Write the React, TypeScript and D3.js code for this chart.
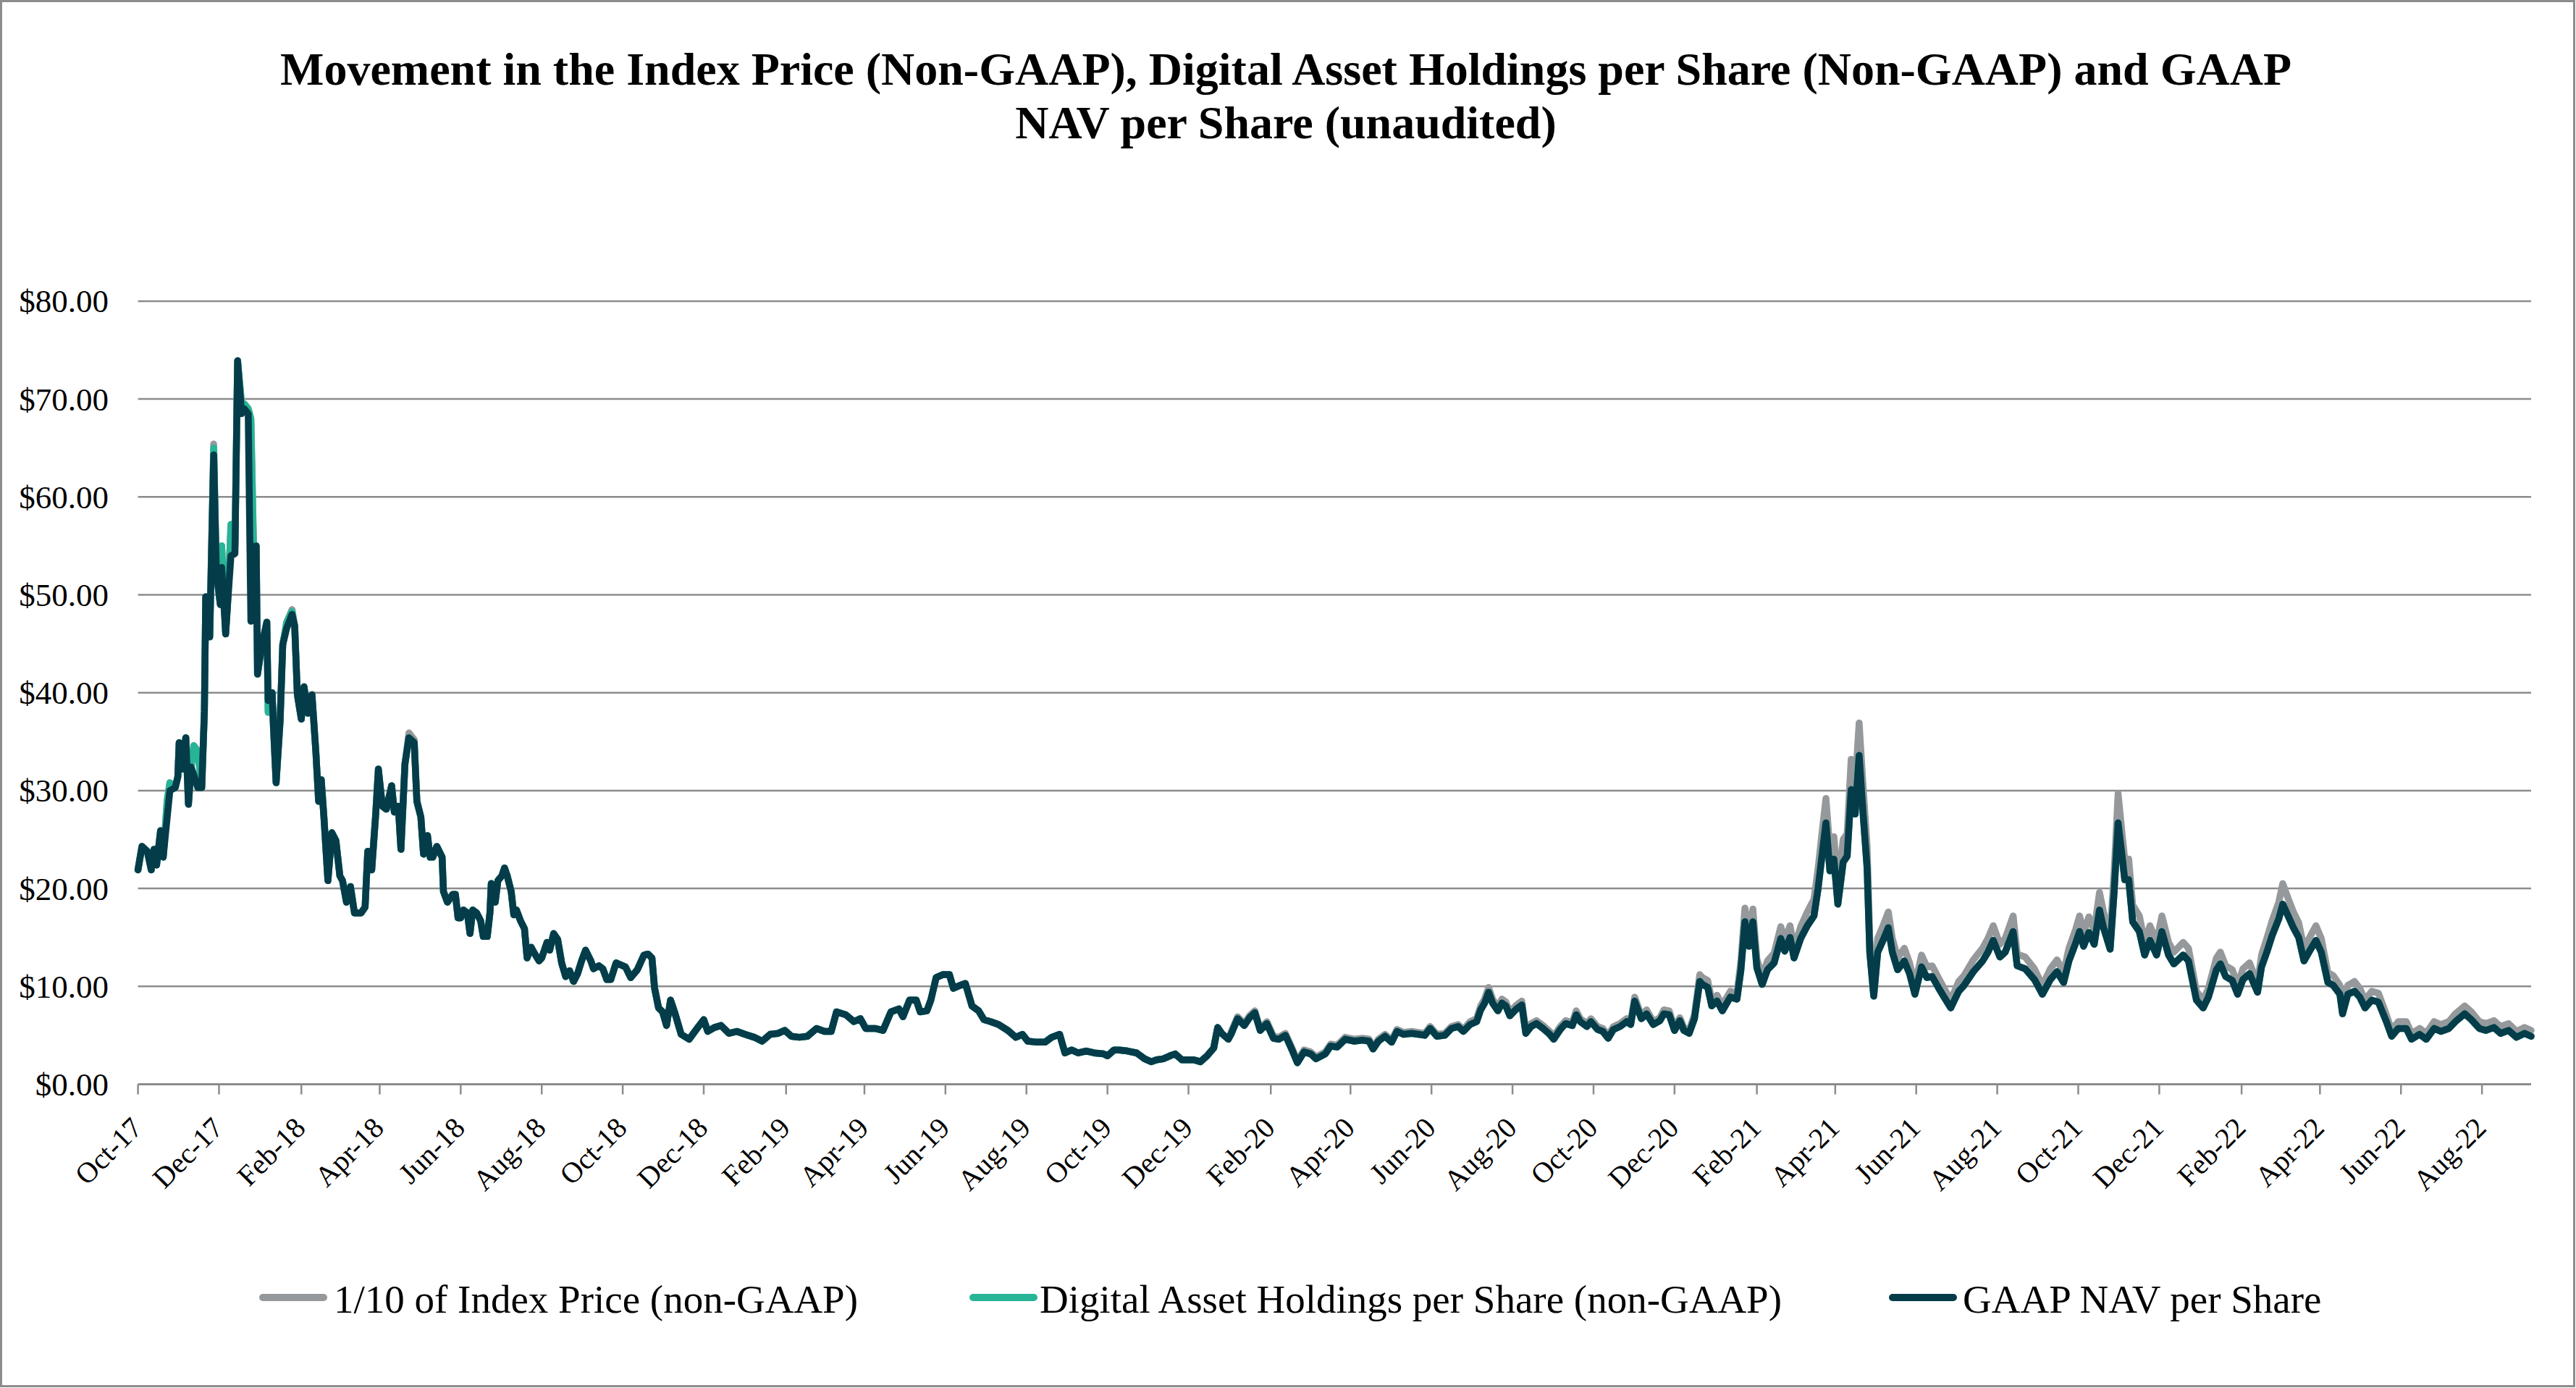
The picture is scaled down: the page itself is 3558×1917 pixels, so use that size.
import React from 'react';
import * as d3 from 'd3';

const W = 3558;
const H = 1917;
const START = new Date(2017, 9, 1); // day 0 = 2017-10-01
const END = new Date(2022, 8, 7);

// observation dates, as days after 2017-10-01
const dayOffsets = [
0,3,7,10,12,14,17,19,22,24,28,30,31,33,36,38,40,42,45,48,50,51,54,57,59,62,63,66,68,70,73,75,78,80,83,85,87,89,90,93,97,98,101,102,104,107,109,112,116,118,120,123,125,128,131,134,136,138,140,143,146,149,152,154,157,160,163,168,171,173,176,179,181,184,187,191,193,196,198,201,204,208,210,213,215,218,220,222,225,229,230,233,237,239,241,243,245,248,250,252,255,258,260,263,265,266,269,271,274,276,278,281,283,285,288,291,293,296,298,302,304,308,310,313,316,319,322,325,328,331,334,337,341,343,347,350,353,356,360,
367,371,376,381,384,387,389,392,395,398,401,404,409,415,421,426,429,434,439,445,451,457,464,470,476,482,487,492,498,504,511,517,522,526,533,539,544,548,555,561,567,573,576,581,586,589,594,597,601,606,611,614,619,623,628,633,637,642,648,655,661,666,670,677,683,688,694,698,703,708,714,720,727,730,735,739,745,752,758,763,767,772,777,781,786,791,795,800,805,810,813,816,821,
823,828,833,837,841,845,850,855,859,864,869,873,878,883,887,894,898,903,909,916,922,927,930,934,939,944,948,953,959,964,969,973,978,984,989,994,998,1003,1008,1011,1014,1017,1020,1024,1027,1030,1033,1038,1042,1045,1049,1053,1058,1063,1066,1071,1075,1080,1083,1086,1091,1094,1099,1103,1107,1111,1116,1121,1124,1127,1132,1136,1141,1146,1149,1153,1157,1161,1164,1168,1172,1176,1178,1182,1185,1189,1193,1196,1199,1204,1207,1210,1213,1216,1219,1223,1227,1232,1237,1240,1244,1247,1252,1257,
1262,1265,1268,1271,1274,1277,1280,1284,1287,1290,1293,1296,1299,1302,1304,1307,1310,1314,1318,1321,1325,1330,1334,1338,1343,1347,1351,1356,1360,1365,1371,1375,1382,1389,1393,1397,1402,1406,1412,1415,1421,1428,1434,1440,1445,1450,1454,1459,1462,1465,1469,1473,1477,1480,1485,1488,1491,1494,1496,1499,1502,1507,1511,1515,1520,1524,1529,1533,1540,1544,1550,1555,1559,1565,1568,1572,1577,1581,1585,1590,1596,1599,1603,1607,1612,1615,1619,1623,1627,1631,1636,1640,1644,1649,1653,1658,1660,1664,1669,1673,1677,1682,1687,1693,1697,1702,1708,1712,1718,1723,1729,1734,1740,1745,1752,1757,1763,1768,1774,1779,1785,1791,1797,1802
];

// GAAP NAV per Share
const navPerShare = [
21.9,24.3,23.8,21.9,24.0,22.4,25.9,23.2,27.3,30.0,30.3,31.4,34.9,32.2,35.4,28.6,32.4,31.6,30.3,30.3,38.1,49.8,45.7,64.3,52.3,49.0,52.8,46.0,50.1,54.0,54.2,73.9,68.5,69.0,68.5,47.3,54.9,55.0,41.9,44.7,47.2,39.2,40.0,36.5,30.8,37.1,44.9,46.6,48.0,46.8,39.8,37.3,40.6,37.9,39.8,33.8,28.9,31.1,27.3,20.8,25.7,24.9,21.3,20.8,18.6,20.2,17.5,17.5,18.1,23.8,21.9,27.6,32.2,28.4,28.1,30.5,27.8,28.4,24.0,32.7,35.4,34.9,28.9,27.3,23.5,25.4,23.2,23.2,24.3,23.2,19.7,18.6,19.4,19.4,17.0,17.0,17.8,17.5,15.4,17.8,17.5,16.7,15.1,15.1,17.5,20.5,18.6,20.8,21.3,22.1,21.3,19.7,17.3,17.8,16.7,15.9,12.9,14.0,13.5,12.6,12.9,14.5,13.7,15.4,14.8,12.4,11.0,11.6,10.5,11.3,12.6,13.7,12.6,11.8,12.1,11.8,10.7,10.7,12.4,
12.0,10.9,11.7,13.2,13.3,12.9,9.8,7.8,7.4,6.0,8.6,7.4,5.1,4.6,5.7,6.6,5.4,5.8,6.0,5.2,5.4,5.1,4.8,4.4,5.1,5.2,5.5,4.9,4.8,4.9,5.7,5.4,5.4,7.4,7.1,6.4,6.7,5.7,5.7,5.5,7.4,7.7,6.9,8.6,8.6,7.4,7.5,8.6,10.9,11.2,11.2,9.8,10.1,10.3,8.0,7.5,6.6,6.4,6.1,5.5,4.8,5.1,4.4,4.3,4.3,4.8,5.1,3.2,3.5,3.2,3.4,3.2,3.1,2.9,3.5,3.5,3.4,3.2,2.6,2.3,2.5,2.6,2.9,3.1,2.5,2.5,2.5,2.3,2.9,3.7,5.8,5.2,4.6,
5.1,6.7,6.0,6.8,7.3,5.5,6.2,4.7,4.6,5.0,3.5,2.2,3.3,3.1,2.6,3.1,3.9,3.8,4.6,4.4,4.5,4.4,3.6,4.4,4.9,4.3,5.4,5.1,5.2,5.1,5.0,5.7,4.9,5.0,5.7,5.9,5.4,6.1,6.4,7.6,8.3,9.4,8.3,7.5,8.3,8.0,7.0,7.7,8.1,5.2,5.9,6.2,5.7,5.1,4.6,5.6,6.2,6.0,7.1,6.4,5.9,6.4,5.6,5.4,4.7,5.6,5.9,6.4,6.1,8.5,6.7,7.2,6.1,6.5,7.2,7.1,5.5,6.5,5.5,5.2,6.7,10.5,10.2,9.9,8.0,8.5,7.5,8.2,8.9,8.7,11.7,16.6,14.1,16.6,11.9,10.2,11.7,12.4,14.9,13.6,15.0,12.9,14.9,16.2,
17.2,19.9,23.3,26.7,21.8,23.0,18.4,22.7,23.3,30.1,27.6,33.6,27.6,22.1,13.5,9.0,13.5,14.7,16.0,13.5,11.7,12.6,11.3,9.2,12.0,10.9,11.0,9.8,8.9,7.8,9.5,10.1,11.5,12.6,13.5,14.7,13.0,13.5,15.6,12.1,11.8,10.7,9.2,10.7,11.5,10.4,12.6,14.4,15.6,14.1,15.5,14.3,17.8,16.0,13.8,19.6,26.7,23.3,20.9,20.9,16.6,15.6,13.2,14.7,13.2,15.6,13.2,12.3,13.2,12.6,8.6,7.8,8.9,11.7,12.3,11.0,10.6,9.2,10.7,11.3,9.4,12.0,13.5,15.2,16.9,18.4,17.2,16.0,15.0,12.6,13.8,14.7,13.5,10.4,10.1,9.2,7.2,9.2,9.5,8.9,7.8,8.6,8.4,6.4,4.9,5.7,5.7,4.6,5.1,4.6,5.7,5.4,5.7,6.4,7.2,6.6,5.7,5.5,5.8,5.2,5.5,4.8,5.2,4.9
];

// Digital Asset Holdings per Share (non-GAAP)
const holdingsPerShare = [
21.9,24.3,23.8,21.9,24.0,22.4,25.9,23.2,29.0,30.8,30.3,31.4,34.9,32.2,35.4,28.6,32.4,34.6,34.0,30.3,38.1,49.8,45.7,65.0,52.3,49.0,55.0,46.0,50.5,57.2,55.0,73.9,69.5,69.5,69.0,68.0,54.9,55.0,41.9,44.7,47.2,38.0,40.0,36.5,30.8,37.1,44.9,47.2,48.3,46.8,39.8,37.3,40.6,37.9,39.8,33.8,28.9,31.1,27.3,20.8,25.7,24.9,21.3,20.8,18.6,20.2,17.5,17.5,18.1,23.8,21.9,27.6,32.2,28.4,28.1,30.5,27.8,28.4,24.0,32.7,35.4,34.9,28.9,27.3,23.5,25.4,23.2,23.2,24.3,23.2,19.7,18.6,19.4,19.4,17.0,17.0,17.8,17.5,15.4,17.8,17.5,16.7,15.1,15.1,17.5,20.5,18.6,20.8,21.3,22.1,21.3,19.7,17.3,17.8,16.7,15.9,12.9,14.0,13.5,12.6,12.9,14.5,13.7,15.4,14.8,12.4,11.0,11.6,10.5,11.3,12.6,13.7,12.6,11.8,12.1,11.8,10.7,10.7,12.4,
12.0,10.9,11.7,13.2,13.3,12.9,9.8,7.8,7.4,6.0,8.6,7.4,5.1,4.6,5.7,6.6,5.4,5.8,6.0,5.2,5.4,5.1,4.8,4.4,5.1,5.2,5.5,4.9,4.8,4.9,5.7,5.4,5.4,7.4,7.1,6.4,6.7,5.7,5.7,5.5,7.4,7.7,6.9,8.6,8.6,7.4,7.5,8.6,10.9,11.2,11.2,9.8,10.1,10.3,8.0,7.5,6.6,6.4,6.1,5.5,4.8,5.1,4.4,4.3,4.3,4.8,5.1,3.2,3.5,3.2,3.4,3.2,3.1,2.9,3.5,3.5,3.4,3.2,2.6,2.3,2.5,2.6,2.9,3.1,2.5,2.5,2.5,2.3,2.9,3.7,5.8,5.2,4.6,
5.1,6.7,6.0,6.8,7.3,5.5,6.2,4.7,4.6,5.0,3.5,2.2,3.3,3.1,2.6,3.1,3.9,3.8,4.6,4.4,4.5,4.4,3.6,4.4,4.9,4.3,5.4,5.1,5.2,5.1,5.0,5.7,4.9,5.0,5.7,5.9,5.4,6.1,6.4,7.6,8.3,9.4,8.3,7.5,8.3,8.0,7.0,7.7,8.1,5.2,5.9,6.2,5.7,5.1,4.6,5.6,6.2,6.0,7.1,6.4,5.9,6.4,5.6,5.4,4.7,5.6,5.9,6.4,6.1,8.5,6.7,7.2,6.1,6.5,7.2,7.1,5.5,6.5,5.5,5.2,6.7,10.5,10.2,9.9,8.0,8.5,7.5,8.2,8.9,8.7,11.7,16.6,14.1,16.6,11.9,10.2,11.7,12.4,14.9,13.6,15.0,12.9,14.9,16.2,
17.2,19.9,23.3,26.7,21.8,23.0,18.4,22.7,23.3,30.1,27.6,33.6,27.6,22.1,13.5,9.0,13.5,14.7,16.0,13.5,11.7,12.6,11.3,9.2,12.0,10.9,11.0,9.8,8.9,7.8,9.5,10.1,11.5,12.6,13.5,14.7,13.0,13.5,15.6,12.1,11.8,10.7,9.2,10.7,11.5,10.4,12.6,14.4,15.6,14.1,15.5,14.3,17.8,16.0,13.8,19.6,26.7,23.3,20.9,20.9,16.6,15.6,13.2,14.7,13.2,15.6,13.2,12.3,13.2,12.6,8.6,7.8,8.9,11.7,12.3,11.0,10.6,9.2,10.7,11.3,9.4,12.0,13.5,15.2,16.9,18.4,17.2,16.0,15.0,12.6,13.8,14.7,13.5,10.4,10.1,9.2,7.2,9.2,9.5,8.9,7.8,8.6,8.4,6.4,4.9,5.7,5.7,4.6,5.1,4.6,5.7,5.4,5.7,6.4,7.2,6.6,5.7,5.5,5.8,5.2,5.5,4.8,5.2,4.9
];

// 1/10 of Index Price (non-GAAP)
const indexPriceTenth = [
21.9,24.3,23.8,21.9,24.0,22.4,25.9,23.2,29.0,30.8,30.3,31.4,34.9,32.2,35.4,28.6,32.4,34.6,34.0,30.3,38.1,49.8,45.7,65.4,52.3,49.0,55.0,46.0,50.5,57.2,55.0,73.9,69.5,69.5,69.0,68.0,54.9,55.0,41.9,44.7,47.2,38.0,40.0,36.5,30.8,37.1,44.9,47.2,48.5,46.8,39.8,37.3,40.6,37.9,39.8,33.8,28.9,31.1,27.3,20.8,25.7,24.9,21.3,20.8,18.6,20.2,17.5,17.5,18.1,23.8,21.9,27.6,32.2,28.4,28.1,30.5,27.8,28.4,24.0,32.7,35.9,35.2,28.9,27.3,23.5,25.4,23.2,23.2,24.3,23.2,19.7,18.6,19.4,19.4,17.0,17.0,17.8,17.5,15.4,17.8,17.5,16.7,15.1,15.1,17.5,20.5,18.6,20.8,21.3,22.1,21.3,19.7,17.3,17.8,16.7,15.9,12.9,14.0,13.5,12.6,12.9,14.5,13.7,15.4,14.8,12.4,11.0,11.6,10.5,11.3,12.6,13.7,12.6,11.8,12.1,11.8,10.7,10.7,12.4,
12.0,10.9,11.7,13.2,13.3,12.9,9.8,7.8,7.4,6.0,8.6,7.4,5.1,4.6,5.7,6.6,5.4,5.8,6.0,5.2,5.4,5.1,4.8,4.4,5.1,5.2,5.5,4.9,4.8,4.9,5.7,5.4,5.4,7.4,7.1,6.4,6.7,5.7,5.7,5.5,7.4,7.7,6.9,8.6,8.6,7.4,7.5,8.6,10.9,11.2,11.2,9.8,10.1,10.3,8.0,7.5,6.6,6.4,6.1,5.5,4.8,5.1,4.4,4.3,4.3,4.8,5.1,3.2,3.5,3.2,3.4,3.2,3.1,2.9,3.5,3.5,3.4,3.2,2.6,2.3,2.5,2.6,2.9,3.1,2.5,2.5,2.5,2.3,2.9,3.7,5.8,5.2,4.6,
5.3,6.9,6.2,7.0,7.5,5.7,6.4,4.9,4.8,5.2,3.7,2.4,3.5,3.3,2.8,3.3,4.1,4.0,4.8,4.6,4.7,4.6,3.8,4.6,5.1,4.5,5.6,5.3,5.4,5.3,5.2,5.9,5.1,5.2,5.9,6.1,5.6,6.4,6.7,8.0,8.7,9.9,8.7,7.9,8.7,8.4,7.4,8.1,8.5,5.5,6.2,6.5,6.0,5.4,4.9,5.9,6.5,6.3,7.5,6.7,6.2,6.7,5.9,5.7,5.0,5.9,6.2,6.7,6.4,8.9,7.0,7.6,6.4,6.8,7.6,7.5,5.8,6.8,5.8,5.5,7.1,11.2,10.9,10.6,8.6,9.1,8.0,8.8,9.5,9.3,12.6,18.0,15.2,17.9,12.8,11.0,12.6,13.4,16.1,14.7,16.2,13.9,16.1,17.6,
18.9,21.9,25.6,29.2,24.0,25.3,20.2,25.0,25.6,33.2,30.4,36.9,30.4,24.3,14.9,9.9,14.9,16.2,17.6,14.9,12.9,13.9,12.4,10.1,13.2,12.0,12.1,10.8,9.8,8.6,10.5,11.1,12.7,13.9,14.9,16.2,14.3,14.9,17.2,13.3,13.0,11.8,10.1,11.8,12.7,11.4,13.9,15.8,17.2,15.5,17.1,15.7,19.6,17.6,15.2,21.6,29.7,25.6,23.0,23.0,18.3,17.2,14.5,16.2,14.5,17.2,14.5,13.5,14.5,13.9,9.5,8.6,9.8,12.9,13.5,12.1,11.7,10.1,11.8,12.4,10.3,13.2,14.9,16.7,18.6,20.5,19.0,17.6,16.5,13.9,15.2,16.2,14.9,11.4,11.1,10.1,8.0,10.1,10.5,9.8,8.6,9.5,9.3,7.1,5.5,6.4,6.4,5.2,5.7,5.2,6.4,6.1,6.4,7.2,8.0,7.4,6.4,6.2,6.5,5.9,6.2,5.4,5.8,5.5
];

const yTicks = [0, 10, 20, 30, 40, 50, 60, 70, 80];
const xTickLabels = ['Oct-17','Dec-17','Feb-18','Apr-18','Jun-18','Aug-18','Oct-18','Dec-18','Feb-19','Apr-19','Jun-19','Aug-19','Oct-19','Dec-19','Feb-20','Apr-20','Jun-20','Aug-20','Oct-20','Dec-20','Feb-21','Apr-21','Jun-21','Aug-21','Oct-21','Dec-21','Feb-22','Apr-22','Jun-22','Aug-22'];

const titleLines = ['Movement in the Index Price (Non-GAAP), Digital Asset Holdings per Share (Non-GAAP) and GAAP', 'NAV per Share (unaudited)'];
const seriesNames = ['1/10 of Index Price (non-GAAP)', 'Digital Asset Holdings per Share (non-GAAP)', 'GAAP NAV per Share'];
const seriesColors = ['#96999c', '#28b496', '#053c4a'];

const FONT = "'Liberation Serif', 'Times New Roman', serif";
const GRID = '#8c8c8c';

export default function App() {
  React.useEffect(() => {
    document.body.style.margin = '0';
  }, []);
  const dates = dayOffsets.map((d) => d3.timeDay.offset(START, d));
  const x = d3.scaleTime().domain([START, END]).range([190.6, 3496]);
  const y = d3.scaleLinear().domain([0, 80]).range([1497.5, 415.9]);
  const parse = d3.timeParse('%b-%y');
  const tickDates = xTickLabels.map((l) => parse(l) as Date);
  const line = d3.line<number>().x((_, i) => x(dates[i])).y((v) => y(v));
  const series = [indexPriceTenth, holdingsPerShare, navPerShare];
  const legendSwatchX = [358, 1339, 2609];
  const legendTextX = [461, 1436, 2711];

  return (
    <svg width={W} height={H} style={{ position: 'absolute', left: 0, top: 0, background: '#fff' }} fontFamily={FONT}>
      <rect x={0} y={0} width={W} height={H} fill="#fff" />
      <rect x={1.5} y={1.5} width={W - 4} height={H - 4} fill="none" stroke="#8c8c8c" strokeWidth={3} />
      {titleLines.map((t, i) => (
        <text key={i} x={1776} y={117 + i * 74} textAnchor="middle" fontWeight="bold" fontSize={64} fill="#000">{t}</text>
      ))}
      {yTicks.filter((v) => v > 0).map((v) => (
        <line key={v} x1={190.6} x2={3496} y1={y(v)} y2={y(v)} stroke={GRID} strokeWidth={2.5} />
      ))}
      {yTicks.map((v) => (
        <text key={'yl' + v} x={150} y={y(v) + 15.5} textAnchor="end" fontSize={45} fill="#000">{'$' + v.toFixed(2)}</text>
      ))}
      {series.map((s, i) => (
        <path key={i} d={line(s) || ''} fill="none" stroke={seriesColors[i]} strokeWidth={9.5} strokeLinejoin="round" strokeLinecap="round" />
      ))}
      <line x1={190.6} x2={3496} y1={y(0)} y2={y(0)} stroke={GRID} strokeWidth={3} />
      {tickDates.map((d, i) => (
        <g key={i}>
          <line x1={x(d)} x2={x(d)} y1={y(0)} y2={y(0) + 14} stroke={GRID} strokeWidth={2.5} />
          <text transform={`translate(${x(d) + 8},${1560}) rotate(-45)`} textAnchor="end" fontSize={40} fill="#000">{xTickLabels[i]}</text>
        </g>
      ))}
      {seriesNames.map((n, i) => (
        <g key={n}>
          <line x1={legendSwatchX[i] + 5} x2={legendSwatchX[i] + 89} y1={1792} y2={1792} stroke={seriesColors[i]} strokeWidth={10} strokeLinecap="round" />
          <text x={legendTextX[i]} y={1813} fontSize={55} fill="#000">{n}</text>
        </g>
      ))}
    </svg>
  );
}
